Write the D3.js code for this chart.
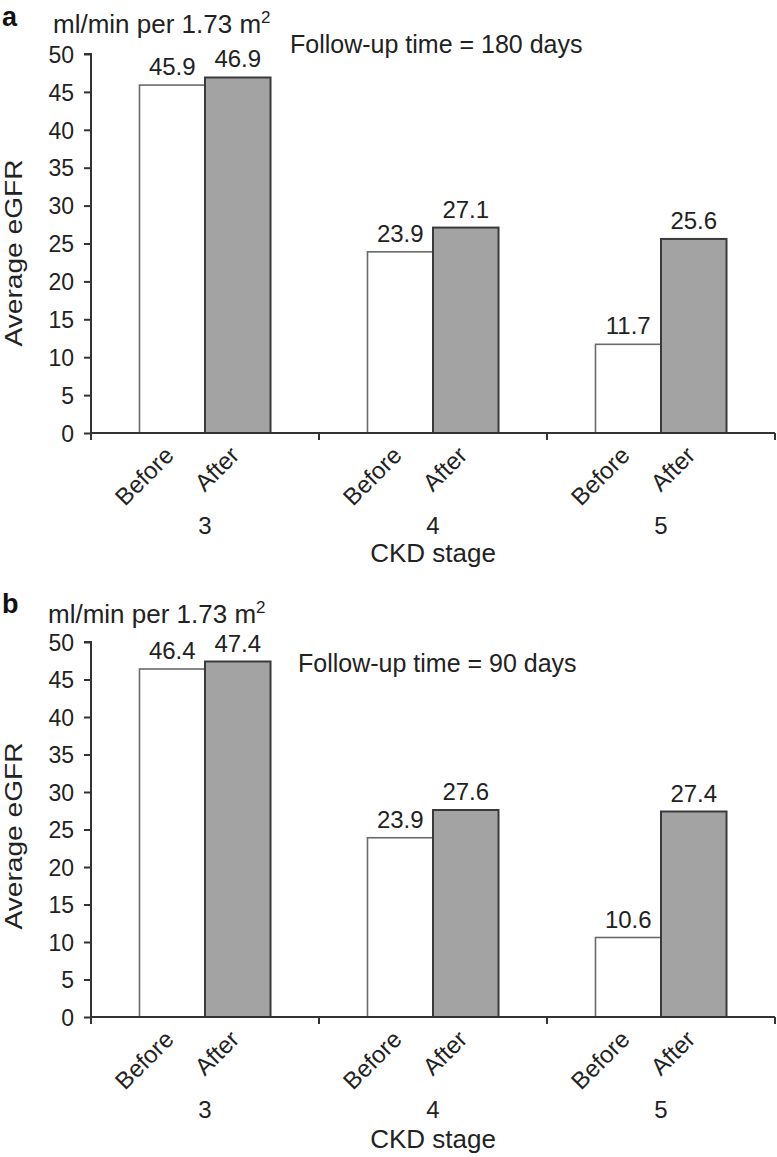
<!DOCTYPE html>
<html><head><meta charset="utf-8">
<script src="https://cdn.jsdelivr.net/npm/d3@7"></script>
<style>body{margin:0;background:#fff;}svg{display:block;font-family:"Liberation Sans",Arial,sans-serif;}</style>
</head><body>
<svg id="chart" width="777" height="1157"></svg>
<script>
const stages = ["3", "4", "5"];
const periods = ["Before", "After"];
const before180 = [45.9, 23.9, 11.7];
const after180 = [46.9, 27.1, 25.6];
const before90 = [46.4, 23.9, 10.6];
const after90 = [47.4, 27.6, 27.4];
const yTicks = [0, 5, 10, 15, 20, 25, 30, 35, 40, 45, 50];
const panelLabels = ["a", "b"];
const followUps = ["Follow-up time = 180 days", "Follow-up time = 90 days"];
const unitText = "ml/min per 1.73 m";
const yTitle = "Average eGFR";
const xTitle = "CKD stage";

const svg = d3.select("#chart");
const axisColor = "#333";
const txt = "#222";

function drawPanel(cfg) {
  const g = svg.append("g");
  const x = d3.scaleBand().domain(stages).range([91, 775]).padding(0);
  const inner = d3.scaleBand().domain(periods).range([0, x.bandwidth()]).paddingInner(0).paddingOuter(0.74);
  const y = d3.scaleLinear().domain([0, 50]).range([cfg.y0, cfg.y50]);

  const rows = [];
  stages.forEach((s, i) => {
    rows.push({stage: s, period: "Before", v: cfg.before[i]});
    rows.push({stage: s, period: "After", v: cfg.after[i]});
  });

  g.selectAll("rect.bar").data(rows).join("rect")
    .attr("x", d => x(d.stage) + inner(d.period))
    .attr("width", inner.bandwidth())
    .attr("y", d => y(d.v))
    .attr("height", d => y(0) - y(d.v))
    .attr("fill", d => d.period === "After" ? "#a3a3a3" : "#fff")
    .attr("stroke", d => d.period === "After" ? "#3a3a3a" : "#6a6a6a")
    .attr("stroke-width", d => d.period === "After" ? 2 : 1.6);

  g.selectAll("text.val").data(rows).join("text")
    .attr("x", d => x(d.stage) + inner(d.period) + inner.bandwidth() / 2)
    .attr("y", d => y(d.v) - 10)
    .attr("text-anchor", "middle")
    .attr("font-size", 24).attr("fill", txt)
    .text(d => d.v.toFixed(1));

  const yAxis = d3.axisLeft(y).tickValues(yTicks).tickSize(7).tickPadding(10);
  const ya = g.append("g").attr("transform", "translate(91,0)").call(yAxis);
  ya.select(".domain").attr("stroke", axisColor).attr("stroke-width", 2).attr("d", `M-7,${y(50)}H0V${y(0)}`);
  ya.selectAll(".tick line").attr("stroke", axisColor).attr("stroke-width", 2);
  ya.selectAll(".tick text").attr("font-size", 23).attr("fill", txt)
    .attr("font-family", "Liberation Sans, Arial, sans-serif").attr("dy", "0.36em");

  const xa = g.append("g").attr("transform", `translate(0,${y(0)})`);
  xa.append("line").attr("x1", 91).attr("x2", 775).attr("stroke", axisColor).attr("stroke-width", 2);
  const bounds = stages.map(s => x(s)).concat([x(stages[stages.length - 1]) + x.bandwidth()]);
  xa.selectAll("line.bt").data(bounds).join("line")
    .attr("x1", d => d).attr("x2", d => d).attr("y1", 0).attr("y2", 7)
    .attr("stroke", axisColor).attr("stroke-width", 2);

  g.selectAll("text.per").data(rows).join("text")
    .attr("transform", d => {
      const cx = x(d.stage) + inner(d.period) + inner.bandwidth() / 2 - 9;
      return `translate(${cx},${y(0) + 12}) rotate(-45)`;
    })
    .attr("text-anchor", "end")
    .attr("font-size", 24).attr("fill", txt)
    .attr("dy", "0.7em")
    .text(d => d.period);

  g.selectAll("text.stage").data(stages).join("text")
    .attr("x", d => x(d) + x.bandwidth() / 2)
    .attr("y", y(0) + cfg.stageOff)
    .attr("text-anchor", "middle")
    .attr("font-size", 24).attr("fill", txt)
    .text(d => d);

  g.append("text").attr("x", 433).attr("y", y(0) + cfg.xTitleOff)
    .attr("text-anchor", "middle").attr("font-size", 26).attr("fill", txt).text(xTitle);

  g.append("text")
    .attr("transform", `translate(22,${cfg.yTitleMid}) rotate(-90)`)
    .attr("text-anchor", "middle").attr("font-size", 24).attr("fill", txt)
    .attr("textLength", 187).attr("lengthAdjust", "spacingAndGlyphs")
    .text(yTitle);

  const u = g.append("text").attr("x", cfg.unitX).attr("y", cfg.unitY).attr("font-size", 26).attr("fill", txt);
  u.append("tspan").text(unitText);
  u.append("tspan").attr("font-size", 17).attr("dy", -10).text("2");

  g.append("text").attr("x", 2).attr("y", cfg.labelY).attr("font-size", 27).attr("font-weight", "bold").attr("fill", "#111").text(cfg.label);

  g.append("text").attr("x", cfg.fuX).attr("y", cfg.fuY).attr("font-size", 25).attr("fill", txt).text(cfg.fu);
}

drawPanel({before: before180, after: after180, y0: 433, y50: 54, label: panelLabels[0], fu: followUps[0],
  fuX: 290, fuY: 53, unitX: 53, unitY: 33, labelY: 26, stageOff: 101, xTitleOff: 129, yTitleMid: 253});
drawPanel({before: before90, after: after90, y0: 1017, y50: 642, label: panelLabels[1], fu: followUps[1],
  fuX: 298, fuY: 672, unitX: 48, unitY: 623, labelY: 613, stageOff: 101, xTitleOff: 131, yTitleMid: 836});
</script>
</body></html>
